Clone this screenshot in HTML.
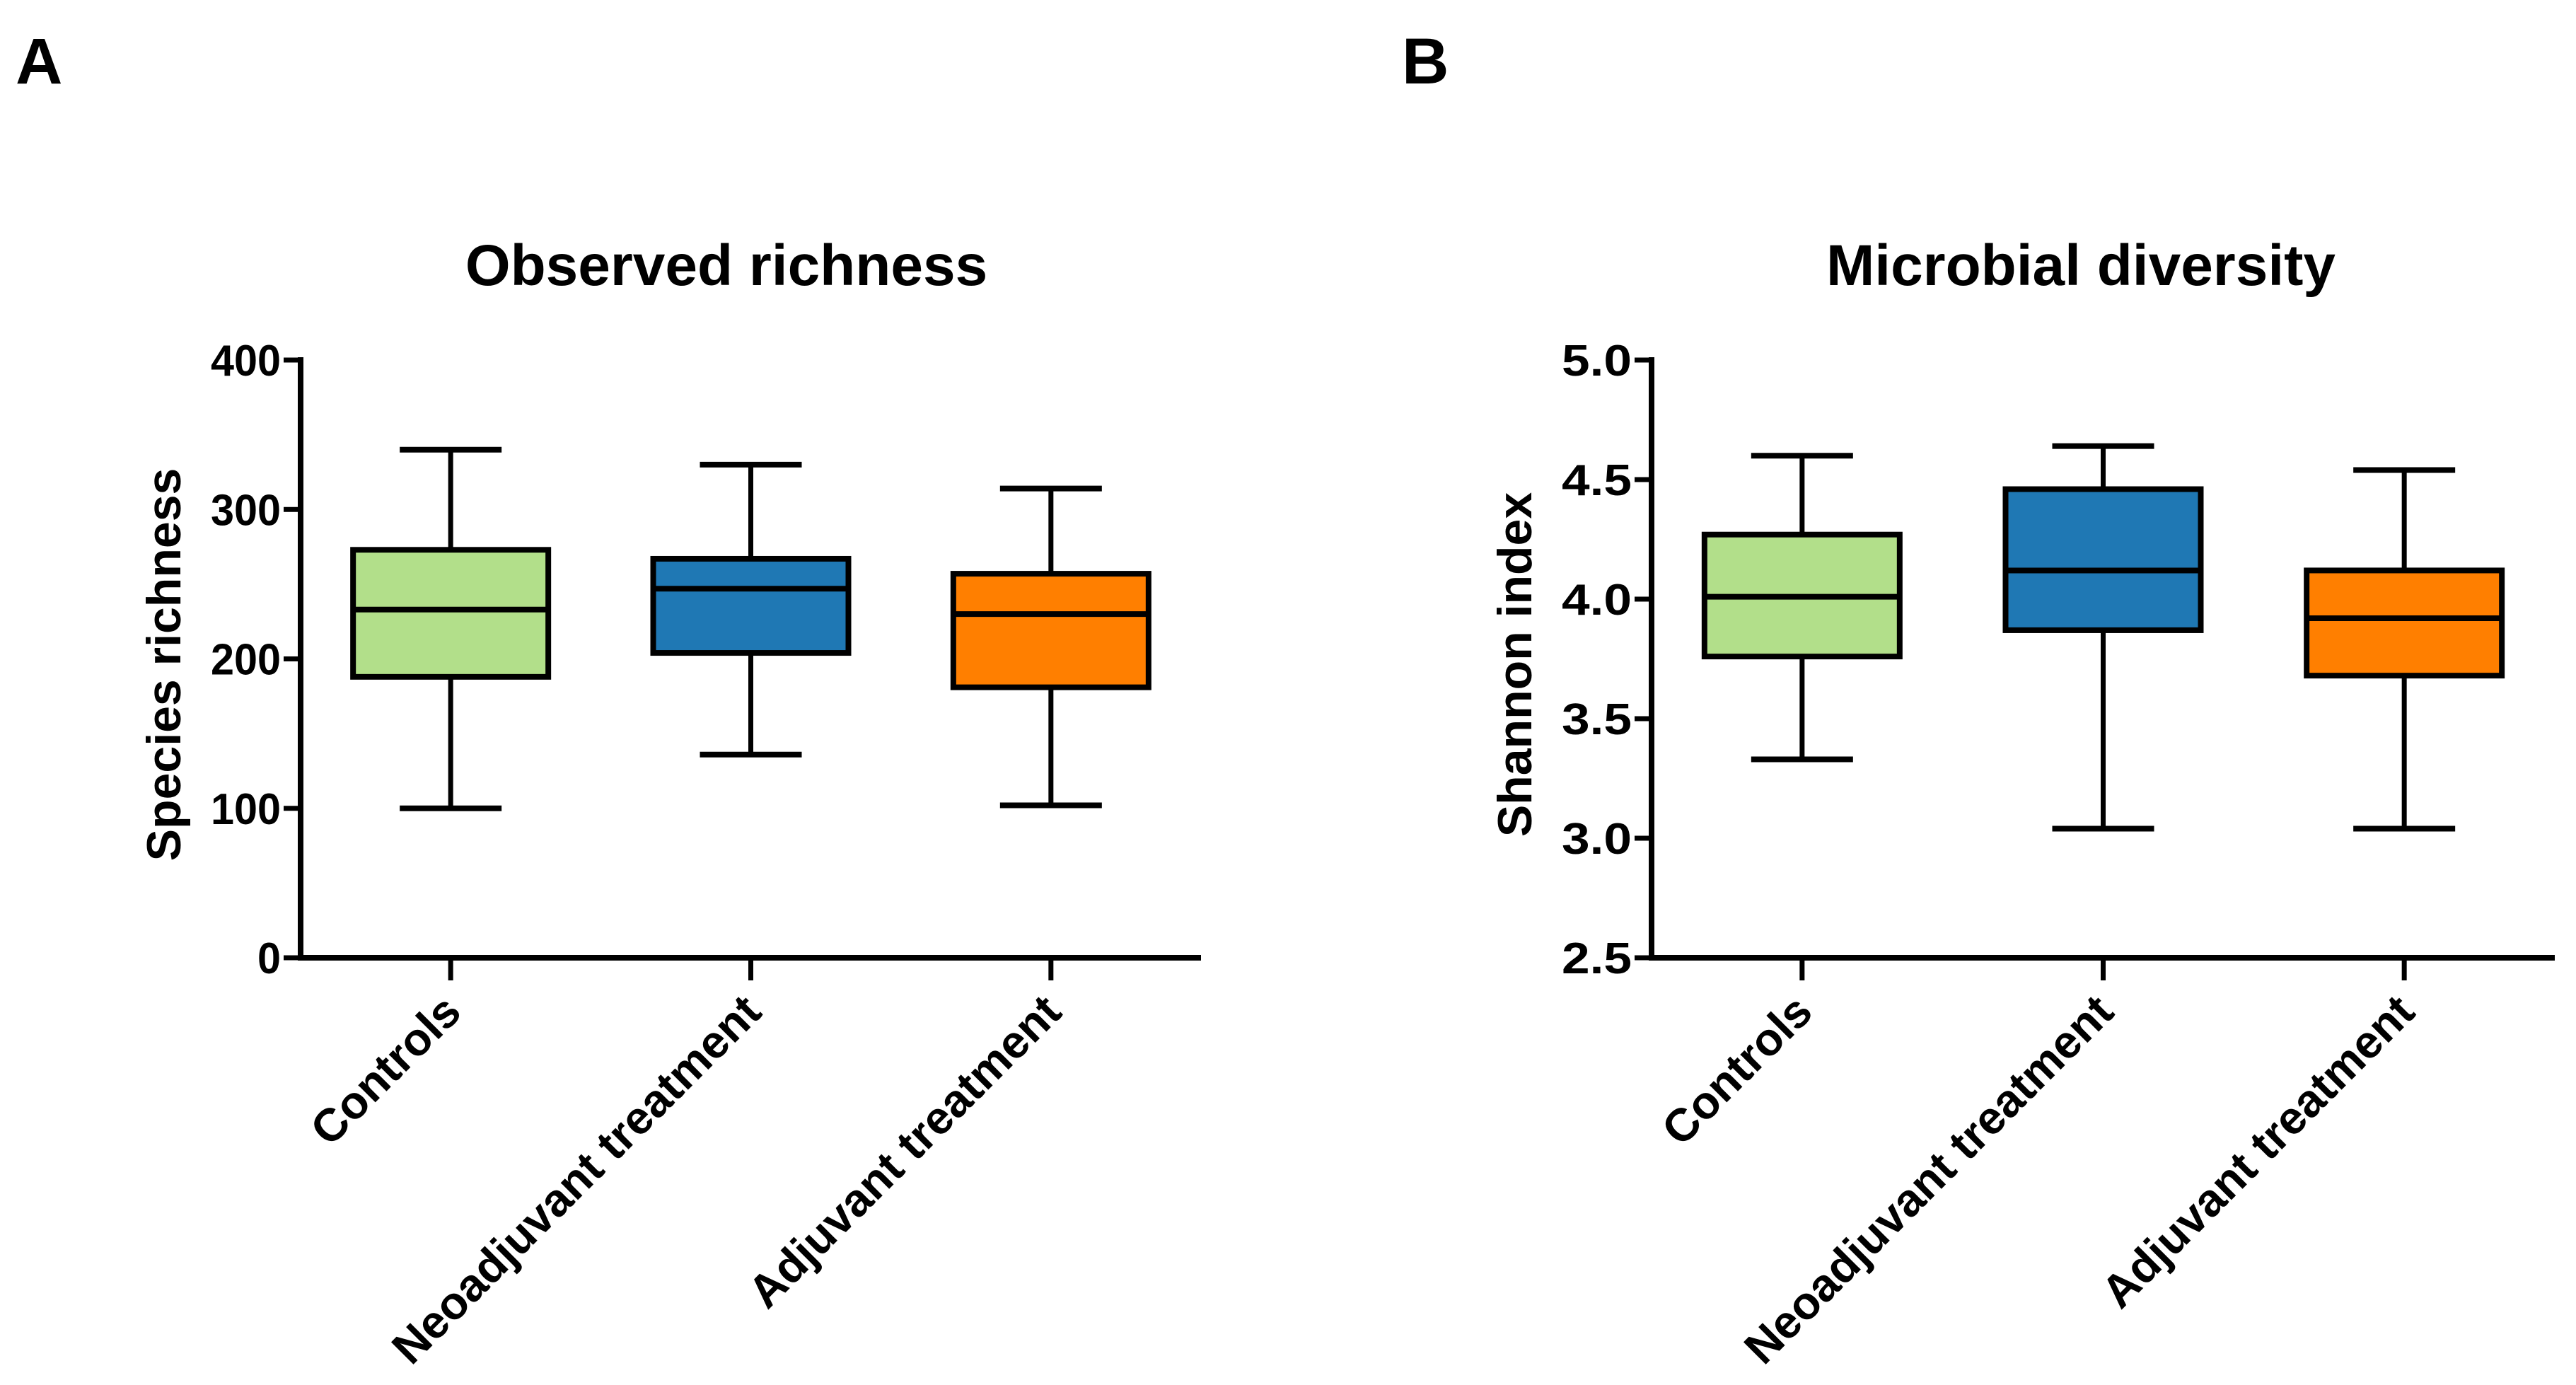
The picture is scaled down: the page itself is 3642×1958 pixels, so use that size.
<!DOCTYPE html>
<html><head><meta charset="utf-8">
<style>
html,body{margin:0;padding:0;background:#fff;}
svg{display:block;font-family:"Liberation Sans",Arial,sans-serif;font-weight:bold;}
</style></head>
<body>
<svg id="fig" width="3642" height="1958" viewBox="0 0 3642 1958" xmlns="http://www.w3.org/2000/svg">
<rect width="3642" height="1958" fill="#fff"/>
<text x="22" y="118" font-size="92">A</text>
<text x="1982" y="118" font-size="92">B</text>
</svg>
<script>
const categories = ["Controls", "Neoadjuvant treatment", "Adjuvant treatment"];
const colors = ["#b2df8a", "#1f78b4", "#ff7f00"];
// Panel A: observed richness
const richMin = [100, 136, 102];
const richQ1 = [188, 204, 181];
const richMed = [233, 247, 230];
const richQ3 = [273, 267, 257];
const richMax = [340, 330, 314];
const richTicks = [0, 100, 200, 300, 400];
const richTickLabels = ["0", "100", "200", "300", "400"];
// Panel B: Shannon index
const shanMin = [3.33, 3.04, 3.04];
const shanQ1 = [3.76, 3.87, 3.68];
const shanMed = [4.01, 4.12, 3.92];
const shanQ3 = [4.27, 4.46, 4.12];
const shanMax = [4.60, 4.64, 4.54];
const shanTicks = [2.5, 3.0, 3.5, 4.0, 4.5, 5.0];
const shanTickLabels = ["2.5", "3.0", "3.5", "4.0", "4.5", "5.0"];

const NS = "http://www.w3.org/2000/svg";
const svg = document.getElementById("fig");
function mk(tag, attrs, parent) {
  const e = document.createElementNS(NS, tag);
  for (const k in attrs) e.setAttribute(k, attrs[k]);
  (parent || svg).appendChild(e);
  return e;
}

function panel(p) {
  const g = mk("g", {});
  
  
  const yTop = 509, yBot = 1354;
  const y = v => yBot - (v - p.ymin) / (p.ymax - p.ymin) * (yBot - yTop);
  const step = (p.xEnd - p.ax) / 3;
  const x = i => p.ax + step * (i + 0.5);

  const t = mk("text", {x: p.titleX, y: 403, "font-size": 82, "text-anchor": "middle"}, g);
  t.textContent = p.title;
  
  

  const yt = mk("text", {x: 0, y: 0, "font-size": 68, "text-anchor": "middle", transform: `translate(${p.ax - 170},${(yTop + yBot) / 2 + 8}) rotate(-90)`}, g);
  yt.textContent = p.ytitle;
  
  

  const ya = mk("line", {x1: p.ax, y1: yTop - 4, x2: p.ax, y2: yBot + 4, stroke: "#000", "stroke-width": 8}, g);
  
  
  const xa = mk("line", {x1: p.ax - 4, y1: yBot, x2: p.xEnd, y2: yBot, stroke: "#000", "stroke-width": 8}, g);
  
  

  p.ticks.forEach((v, i) => {
    const tl = mk("line", {x1: p.ax - 24, y1: y(v), x2: p.ax, y2: y(v), stroke: "#000", "stroke-width": 7}, g);
    
    
    const tx = mk("text", {x: p.ax - 28, y: y(v) + 22, "font-size": 62, "text-anchor": "end", textLength: p.tickLabels[i].length * 33, lengthAdjust: "spacingAndGlyphs"}, g);
    tx.textContent = p.tickLabels[i];
    
    
  });

  categories.forEach((c, i) => {
    const cx = x(i);
    const tk = mk("line", {x1: cx, y1: yBot, x2: cx, y2: yBot + 32, stroke: "#000", "stroke-width": 7}, g);
    
    
    const lb = mk("text", {x: 0, y: 0, "font-size": 65, "text-anchor": "end", transform: `translate(${cx + 18},${yBot + 80}) rotate(-45)`}, g);
    lb.textContent = c;
    
    

    const bg = mk("g", {}, g);
    
    
    const hw = 138, cw = 72;
    const w1 = mk("line", {x1: cx, y1: y(p.max[i]), x2: cx, y2: y(p.q3[i]), stroke: "#000", "stroke-width": 7}, bg);
    
    
    const w2 = mk("line", {x1: cx, y1: y(p.q1[i]), x2: cx, y2: y(p.min[i]), stroke: "#000", "stroke-width": 7}, bg);
    
    
    const c1 = mk("line", {x1: cx - cw, y1: y(p.max[i]), x2: cx + cw, y2: y(p.max[i]), stroke: "#000", "stroke-width": 8}, bg);
    
    
    const c2 = mk("line", {x1: cx - cw, y1: y(p.min[i]), x2: cx + cw, y2: y(p.min[i]), stroke: "#000", "stroke-width": 8}, bg);
    
    
    const r = mk("rect", {x: cx - hw, y: y(p.q3[i]), width: 2 * hw, height: y(p.q1[i]) - y(p.q3[i]), fill: colors[i], stroke: "#000", "stroke-width": 8}, bg);
    
    
    const m = mk("line", {x1: cx - hw, y1: y(p.med[i]), x2: cx + hw, y2: y(p.med[i]), stroke: "#000", "stroke-width": 8}, bg);
    
    
  });
}

panel({name: "panel-a-observed-richness", title: "Observed richness", titleX: 1027, ytitle: "Species richness",
  ax: 425, xEnd: 1698, ymin: 0, ymax: 400, ticks: richTicks, tickLabels: richTickLabels,
  min: richMin, q1: richQ1, med: richMed, q3: richQ3, max: richMax});
panel({name: "panel-b-microbial-diversity", title: "Microbial diversity", titleX: 2942, ytitle: "Shannon index",
  ax: 2335, xEnd: 3612, ymin: 2.5, ymax: 5.0, ticks: shanTicks, tickLabels: shanTickLabels,
  min: shanMin, q1: shanQ1, med: shanMed, q3: shanQ3, max: shanMax});
</script>
</body></html>
